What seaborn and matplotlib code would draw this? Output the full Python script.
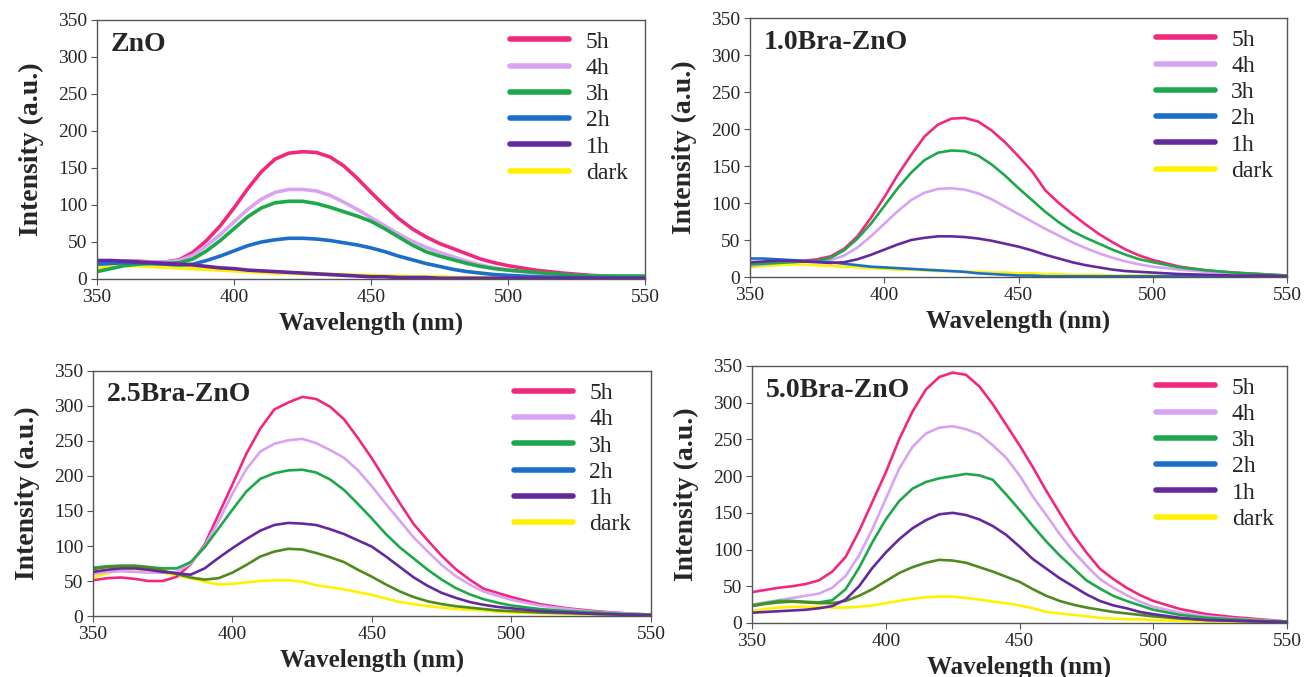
import numpy as np
import pandas as pd
import matplotlib
matplotlib.use("Agg")
import matplotlib.pyplot as plt
from matplotlib.lines import Line2D
import seaborn as sns

wavelength = [350, 355, 360, 365, 370, 375, 380, 385, 390, 395, 400, 405, 410, 415, 420,
              425, 430, 435, 440, 445, 450, 455, 460, 465, 470, 475, 480, 485, 490, 495,
              500, 510, 520, 530, 540, 550]

series_names = ['5h', '4h', '3h', '2h', '1h', 'dark']

# ZnO
zno_5h = [22, 23, 24, 24, 23, 23, 26, 36, 52, 72, 96, 122, 145, 162, 170, 172, 171, 165, 153, 136,
          117, 99, 82, 68, 57, 48, 41, 34, 27, 22, 18, 12, 8, 5, 3, 2]
zno_4h = [20, 21, 22, 23, 23, 23, 25, 32, 45, 60, 77, 94, 108, 117, 121, 121, 119, 113, 104, 94,
          83, 72, 61, 51, 43, 36, 30, 24, 19, 15, 12, 8, 5, 4, 3, 2]
zno_3h = [10, 14, 18, 20, 21, 21, 22, 27, 38, 52, 68, 84, 96, 103, 105, 105, 102, 97, 91, 85,
          78, 68, 57, 46, 37, 31, 26, 21, 17, 14, 12, 9, 6, 4, 4, 4]
zno_2h = [20, 21, 22, 22, 21, 20, 19, 20, 25, 31, 38, 45, 50, 53, 55, 55, 54, 52, 49, 46,
          42, 37, 31, 26, 21, 17, 13, 10, 8, 6, 5, 3, 2, 2, 1, 1]
zno_1h = [25, 25, 24, 23, 22, 21, 20, 19, 17, 15, 14, 12, 11, 10, 9, 8, 7, 6, 5, 4,
          3, 3, 2, 2, 2, 1, 1, 1, 1, 1, 1, 1, 1, 1, 1, 1]
zno_dark = [15, 17, 18, 18, 17, 16, 15, 14, 13, 12, 11, 10, 9, 8, 8, 7, 7, 6, 6, 5,
            5, 4, 4, 3, 3, 3, 2, 2, 2, 2, 2, 1, 1, 1, 1, 1]

# 1.0Bra-ZnO
b10_5h = [18, 20, 21, 22, 22, 24, 28, 38, 55, 80, 108, 138, 165, 190, 206, 214, 215, 210, 198, 182,
          163, 143, 117, 100, 85, 71, 58, 47, 37, 29, 23, 14, 9, 6, 4, 2]
b10_4h = [15, 17, 19, 20, 21, 21, 23, 29, 40, 55, 72, 89, 104, 114, 119, 120, 118, 113, 105, 95,
          85, 75, 65, 56, 47, 39, 32, 26, 21, 17, 14, 10, 7, 5, 3, 2]
b10_3h = [17, 18, 19, 20, 21, 22, 26, 36, 52, 72, 96, 120, 141, 158, 168, 171, 170, 164, 152, 137,
          120, 104, 88, 74, 62, 53, 45, 37, 30, 24, 20, 13, 9, 6, 4, 2]
b10_2h = [25, 25, 24, 23, 22, 21, 20, 18, 16, 14, 13, 12, 11, 10, 9, 8, 7, 5, 4, 3,
          2, 2, 1, 1, 1, 1, 1, 1, 1, 1, 1, 1, 1, 1, 1, 1]
b10_1h = [20, 21, 22, 22, 21, 20, 19, 20, 24, 30, 37, 44, 50, 53, 55, 55, 54, 52, 49, 45,
          41, 36, 30, 25, 20, 16, 13, 10, 8, 7, 6, 4, 3, 2, 2, 1]
b10_dark = [13, 15, 16, 17, 17, 16, 15, 14, 13, 12, 11, 10, 10, 9, 8, 8, 7, 7, 6, 6,
            5, 5, 4, 4, 3, 3, 3, 2, 2, 2, 2, 2, 1, 1, 1, 1]

# 2.5Bra-ZnO
b25_5h = [51, 54, 55, 53, 50, 50, 56, 74, 102, 145, 188, 232, 268, 295, 305, 313, 310, 299, 281, 254,
          225, 193, 161, 131, 108, 86, 67, 52, 39, 33, 27, 17, 11, 7, 4, 2]
b25_4h = [60, 63, 64, 63, 62, 62, 63, 75, 100, 135, 175, 210, 235, 246, 251, 253, 247, 237, 226, 208,
          185, 160, 136, 112, 92, 73, 57, 45, 35, 29, 23, 15, 10, 6, 4, 2]
b25_3h = [69, 71, 72, 72, 70, 68, 68, 77, 98, 125, 152, 178, 196, 204, 208, 209, 205, 195, 180, 160,
          139, 117, 98, 82, 66, 52, 40, 31, 24, 19, 15, 10, 7, 5, 3, 2]
b25_2h = [67, 70, 71, 71, 69, 65, 60, 55, 52, 54, 62, 73, 85, 92, 96, 95, 90, 84, 77, 66,
          56, 45, 35, 27, 21, 17, 14, 12, 10, 8, 7, 5, 4, 3, 2, 2]
b25_1h = [63, 66, 68, 68, 66, 63, 61, 59, 68, 83, 97, 110, 122, 130, 133, 132, 130, 124, 117, 108,
          99, 85, 70, 55, 43, 33, 26, 20, 16, 13, 11, 7, 5, 3, 2, 1]
b25_dark = [55, 61, 65, 67, 65, 62, 58, 54, 49, 45, 46, 48, 50, 51, 51, 49, 44, 41, 38, 34,
            30, 25, 20, 17, 14, 12, 10, 9, 8, 6, 5, 4, 3, 2, 2, 1]

# 5.0Bra-ZnO
b50_5h = [42, 45, 48, 50, 53, 58, 70, 90, 125, 165, 205, 250, 288, 318, 335, 341, 338, 322, 298, 270,
          242, 212, 180, 150, 121, 96, 74, 60, 48, 38, 30, 19, 12, 8, 5, 2]
b50_4h = [25, 28, 31, 34, 37, 40, 48, 64, 92, 128, 169, 210, 240, 258, 266, 268, 264, 257, 242, 225,
          201, 172, 147, 121, 98, 78, 60, 48, 38, 29, 22, 14, 9, 6, 4, 2]
b50_3h = [24, 27, 30, 30, 29, 28, 31, 46, 75, 110, 141, 166, 183, 192, 197, 200, 203, 201, 195, 175,
          154, 132, 111, 92, 75, 58, 47, 37, 30, 24, 18, 11, 7, 5, 3, 2]
b50_2h = [23, 26, 28, 29, 28, 27, 27, 30, 37, 46, 57, 68, 76, 82, 86, 85, 82, 76, 70, 63,
          56, 46, 37, 30, 25, 21, 18, 15, 13, 11, 9, 6, 4, 3, 2, 1]
b50_1h = [14, 15, 16, 17, 18, 20, 23, 32, 50, 75, 96, 114, 129, 140, 148, 150, 147, 141, 132, 120,
          104, 87, 74, 61, 50, 39, 30, 24, 20, 15, 12, 7, 4, 3, 2, 1]
b50_dark = [16, 19, 21, 22, 22, 22, 21, 21, 22, 24, 27, 30, 33, 35, 36, 36, 34, 32, 29, 27,
            24, 20, 15, 13, 11, 9, 7, 6, 5, 5, 4, 3, 2, 2, 1, 1]

panels = [
    ('ZnO', [zno_5h, zno_4h, zno_3h, zno_2h, zno_1h, zno_dark]),
    ('1.0Bra-ZnO', [b10_5h, b10_4h, b10_3h, b10_2h, b10_1h, b10_dark]),
    ('2.5Bra-ZnO', [b25_5h, b25_4h, b25_3h, b25_2h, b25_1h, b25_dark]),
    ('5.0Bra-ZnO', [b50_5h, b50_4h, b50_3h, b50_2h, b50_1h, b50_dark]),
]

legend_colors = {'5h': '#F2287E', '4h': '#D9A3F3', '3h': '#1FA84A',
                 '2h': '#1B6EC9', '1h': '#65299F', 'dark': '#FFF200'}
# in the bottom two panels the 2h curve is drawn olive
olive = '#4F8B1C'

sns.set_style('white')
plt.rcParams['font.family'] = ['Liberation Serif', 'DejaVu Serif']

fig = plt.figure(figsize=(13.04, 6.77), dpi=100)
positions = [
    [0.0744, 0.5879, 0.4202, 0.3826],
    [0.5752, 0.5908, 0.4118, 0.3826],
    [0.0713, 0.0901, 0.4279, 0.3619],
    [0.5767, 0.0798, 0.4103, 0.3796],
]
line_w = [2.6, 1.9, 1.9, 1.9]

for i, (name, vals) in enumerate(panels):
    ax = fig.add_axes(positions[i])
    df = pd.concat([pd.DataFrame({'wl': wavelength, 'I': v, 'series': s})
                    for s, v in zip(series_names, vals)], ignore_index=True)
    pal = dict(legend_colors)
    if i >= 2:
        pal['2h'] = olive
    sns.lineplot(data=df, x='wl', y='I', hue='series',
                 hue_order=['dark', '5h', '4h', '3h', '2h', '1h'],
                 palette=pal, linewidth=line_w[i], legend=False, ax=ax)
    ax.set_xlim(350, 550)
    ax.set_ylim(0, 350)
    ax.set_xticks([350, 400, 450, 500, 550])
    ax.set_yticks(range(0, 351, 50))
    ax.tick_params(axis='both', labelsize=14, length=4, width=0.8, color='#555555',
                   pad=3, bottom=True, left=True)
    for sp in ax.spines.values():
        sp.set_color('#555555')
        sp.set_linewidth(1.0)
    ax.set_xlabel('Wavelength (nm)', fontsize=18, fontweight='bold', labelpad=4)
    ax.set_ylabel('Intensity (a.u.)', fontsize=20, fontweight='bold', labelpad=10)
    ax.text(0.025, 0.955, name, transform=ax.transAxes, fontsize=20,
            fontweight='bold', va='top', ha='left')
    handles = [Line2D([0], [0], color=legend_colors[s], lw=4) for s in series_names]
    ax.legend(handles, series_names, loc='upper left', bbox_to_anchor=(0.72, 1.03),
              frameon=False, fontsize=17, handlelength=2.5, handletextpad=0.7,
              labelspacing=0.2, borderpad=0.3)

fig.savefig('out.png', dpi=100)
